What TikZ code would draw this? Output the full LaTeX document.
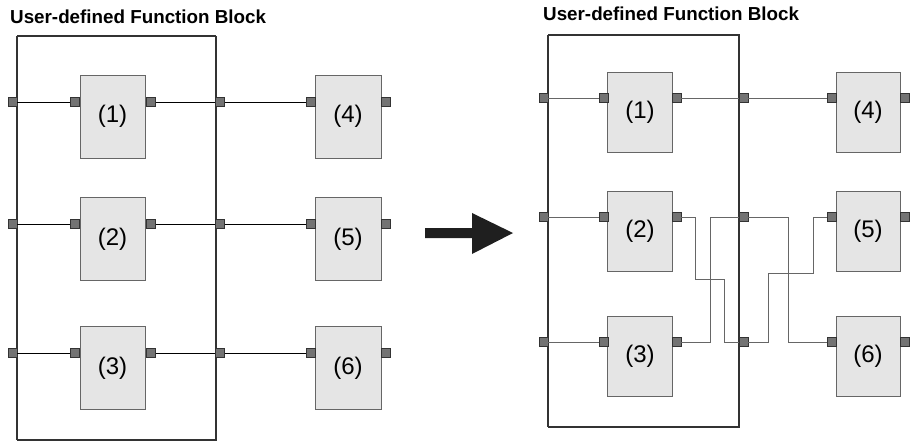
\documentclass[tikz,border=0pt]{standalone}
\usepackage{fontspec}
\setmainfont{Liberation Sans}
\begin{document}
\begin{tikzpicture}[x=1pt,y=-1pt,
  fbox/.style={draw=black!80,line width=1.3pt,dash pattern=on 0.45pt off 0.3pt},
  blk/.style={draw=black!60,fill=black!10,line width=0.8pt,minimum width=65pt,inner sep=0pt,font=\fontsize{24}{24}\selectfont},
  port/.style={draw=black!80,fill=black!55,line width=0.5pt,minimum size=9pt,inner sep=0pt},
  wl/.style={draw=black,line width=0.7pt},
  wr/.style={draw=black!60,line width=0.8pt},
  ttl/.style={font=\fontsize{18.8}{18.8}\selectfont\bfseries,anchor=base west,inner sep=0pt}
]
\useasboundingbox (0,0) rectangle (911,441);
% ---------------- left panel ----------------
\node[ttl] (t1) at (10,24) {User-defined Function Block};
\draw[fbox] (17,36) rectangle (216,440);
\foreach \n/\yt/\yb/\yp in {1/75/158/102, 2/197/281/224, 3/326/410/353}{
  \node[blk,minimum height=83pt] (L\n) at (112.5,{(\yt+\yb)/2}) {\raisebox{-5pt}{(\n)}};
  \node[port] (La\n) at (12.7,\yp) {};
  \node[port] (Li\n) at (75,\yp) {};
  \node[port] (Lo\n) at (151,\yp) {};
  \node[port] (Lb\n) at (220,\yp) {};
}
\foreach \n/\m/\yt/\yb/\yp in {1/4/75/158/102, 2/5/197/281/224, 3/6/326/410/353}{
  \node[blk,minimum height=83pt,minimum width=66pt] (L\m) at (348,{(\yt+\yb)/2}) {\raisebox{-5pt}{(\m)}};
  \node[port] (Lc\n) at (310.5,\yp) {};
  \node[port] (Ld\n) at (386,\yp) {};
  \draw[wl] (La\n) -- (Li\n);
  \draw[wl] (Lo\n) -- (Lb\n);
  \draw[wl] (Lb\n) -- (Lc\n);
}
% ---------------- arrow ----------------
\fill[black!88] (425,228) -- (472,228) -- (472,213) -- (513,233) -- (472,254) -- (472,238) -- (425,238) -- cycle;
% ---------------- right panel ----------------
\node[ttl] (t2) at (543,21) {User-defined Function Block};
\draw[fbox] (548,35) rectangle (739,427);
\foreach \n/\yt/\yb/\yp in {1/72/153/98, 2/191/271/217, 3/316/397/342}{
  \node[blk,minimum height=80pt] (R\n) at (640,{(\yt+\yb)/2}) {\raisebox{-5pt}{(\n)}};
  \node[port] (Ra\n) at (543.5,\yp) {};
  \node[port] (Ri\n) at (604,\yp) {};
  \node[port] (Ro\n) at (676.5,\yp) {};
  \node[port] (Rb\n) at (743.5,\yp) {};
}
\foreach \n/\m/\yt/\yb/\yp in {1/4/72/153/98, 2/5/191/271/217, 3/6/316/397/342}{
  \node[blk,minimum height=80pt,minimum width=64pt] (R\m) at (868,{(\yt+\yb)/2}) {\raisebox{-5pt}{(\m)}};
  \node[port] (Rc\n) at (831.5,\yp) {};
  \node[port] (Rd\n) at (904.5,\yp) {};
  \draw[wr] (Ra\n) -- (Ri\n);
}
\draw[wr] (Ro1) -- (Rb1);
\draw[wr] (Rb1) -- (Rc1);
% (2) out -> lower box port
\draw[wr] (Ro2.east) -- (695,217) -- (695,279) -- (724,279) -- (724,342) -- (Rb3.west);
% (3) out -> upper box port
\draw[wr] (Ro3.east) -- (710,342) -- (710,217) -- (Rb2.west);
% upper box port -> (6)
\draw[wr] (Rb2.east) -- (788,217) -- (788,342) -- (Rc3.west);
% lower box port -> (5)
\draw[wr] (Rb3.east) -- (768,342) -- (768,273) -- (813,273) -- (813,217) -- (Rc2.west);
\end{tikzpicture}
\end{document}
